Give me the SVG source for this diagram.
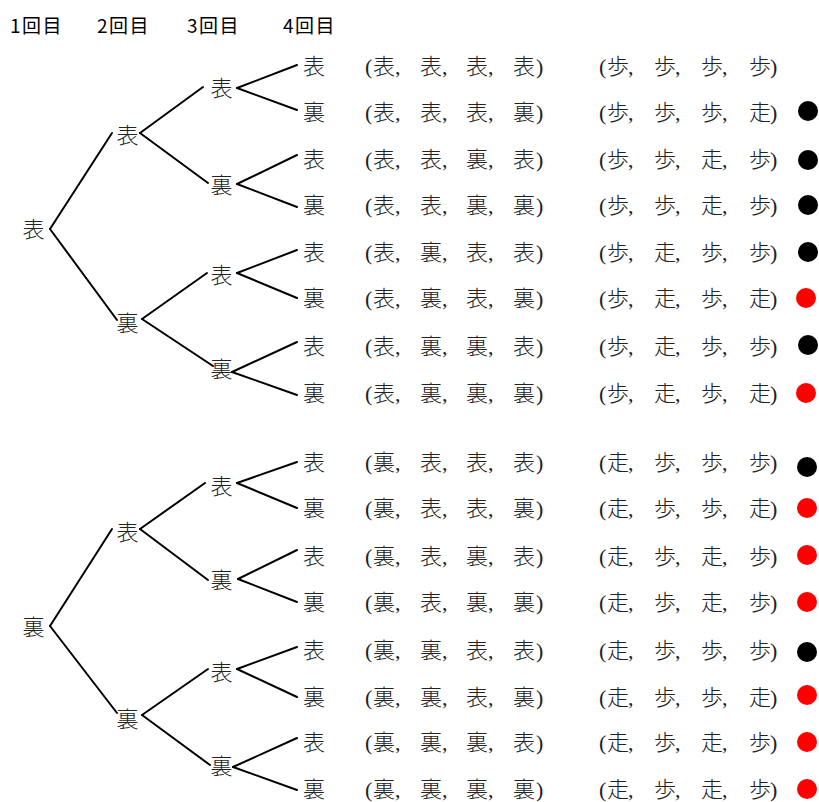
<svg xmlns="http://www.w3.org/2000/svg" width="819" height="802" viewBox="0 0 819 802">
<style>
.hd{font-family:"Noto Sans CJK JP",sans-serif;font-size:19px;font-weight:400;letter-spacing:1.5px;fill:#000}
.nd{font-family:"Noto Sans CJK JP",sans-serif;font-size:22px;font-weight:300;fill:#222;text-anchor:middle}
.tp{font-family:"Liberation Serif","Noto Sans CJK JP",serif;font-size:22px;fill:#222}
.k{font-family:"Noto Sans CJK JP",sans-serif;font-weight:300}
.cn line{stroke:#000;stroke-width:2;stroke-linecap:round}
.bk{fill:#000}.rd{fill:#f00}
</style>
<rect width="819" height="802" fill="#fff"/>
<g id="header">
<text class="hd" x="10" y="33">1回目</text>
<text class="hd" x="97" y="33">2回目</text>
<text class="hd" x="187" y="33">3回目</text>
<text class="hd" x="283" y="33">4回目</text>
</g>
<g id="connectors" class="cn">
<line x1="50" y1="229" x2="112" y2="133"/><line x1="50" y1="229" x2="117" y2="320"/>
<line x1="140" y1="133" x2="203" y2="87"/><line x1="140" y1="133" x2="208" y2="183"/>
<line x1="142" y1="319" x2="207" y2="273"/><line x1="142" y1="319" x2="213" y2="366"/>
<line x1="237" y1="88" x2="297" y2="65"/><line x1="237" y1="88" x2="297" y2="110"/>
<line x1="237" y1="184" x2="297" y2="155"/><line x1="237" y1="184" x2="297" y2="207"/>
<line x1="237" y1="273" x2="297" y2="250"/><line x1="237" y1="273" x2="297" y2="298"/>
<line x1="232" y1="372" x2="297" y2="342"/><line x1="232" y1="372" x2="297" y2="395"/>
<line x1="50" y1="626" x2="112" y2="529"/><line x1="50" y1="626" x2="117" y2="713"/>
<line x1="140" y1="529" x2="205" y2="483"/><line x1="140" y1="529" x2="208" y2="580"/>
<line x1="142" y1="715" x2="208" y2="669"/><line x1="142" y1="715" x2="210" y2="765"/>
<line x1="237" y1="483" x2="297" y2="462"/><line x1="237" y1="483" x2="297" y2="508"/>
<line x1="238" y1="579" x2="297" y2="550"/><line x1="238" y1="579" x2="297" y2="602"/>
<line x1="237" y1="669" x2="297" y2="647"/><line x1="237" y1="669" x2="297" y2="697"/>
<line x1="233" y1="767" x2="297" y2="738"/><line x1="233" y1="767" x2="297" y2="790"/>
</g>
<g id="tree-top">
<g id="n1"><text class="nd" x="33.5" y="237">表</text></g>
<g id="n1a"><text class="nd" x="127.5" y="143">表</text></g>
<g id="n1b"><text class="nd" x="127.5" y="331">裏</text></g>
<g id="n1aa"><text class="nd" x="221.5" y="96">表</text></g>
<g id="n1ab"><text class="nd" x="221.5" y="193">裏</text></g>
<g id="n1ba"><text class="nd" x="221.5" y="283">表</text></g>
<g id="n1bb"><text class="nd" x="221.5" y="377">裏</text></g>
<g id="n1l1"><text class="nd" x="314" y="74">表</text></g>
<g id="n1l2"><text class="nd" x="314" y="120">裏</text></g>
<g id="n1l3"><text class="nd" x="314" y="167">表</text></g>
<g id="n1l4"><text class="nd" x="314" y="213">裏</text></g>
<g id="n1l5"><text class="nd" x="314" y="260">表</text></g>
<g id="n1l6"><text class="nd" x="314" y="306">裏</text></g>
<g id="n1l7"><text class="nd" x="314" y="354">表</text></g>
<g id="n1l8"><text class="nd" x="314" y="401">裏</text></g>
</g>
<g id="tree-bottom">
<g id="n2"><text class="nd" x="33.5" y="635">裏</text></g>
<g id="n2a"><text class="nd" x="127.5" y="540">表</text></g>
<g id="n2b"><text class="nd" x="127.5" y="727">裏</text></g>
<g id="n2aa"><text class="nd" x="221.5" y="494">表</text></g>
<g id="n2ab"><text class="nd" x="221.5" y="588">裏</text></g>
<g id="n2ba"><text class="nd" x="221.5" y="680">表</text></g>
<g id="n2bb"><text class="nd" x="221.5" y="774">裏</text></g>
<g id="n2l1"><text class="nd" x="314" y="470">表</text></g>
<g id="n2l2"><text class="nd" x="314" y="516">裏</text></g>
<g id="n2l3"><text class="nd" x="314" y="564">表</text></g>
<g id="n2l4"><text class="nd" x="314" y="610">裏</text></g>
<g id="n2l5"><text class="nd" x="314" y="658">表</text></g>
<g id="n2l6"><text class="nd" x="314" y="705">裏</text></g>
<g id="n2l7"><text class="nd" x="314" y="750">表</text></g>
<g id="n2l8"><text class="nd" x="314" y="797">裏</text></g>
</g>
<g id="outcomes" class="tp">
<text x="365 373 395 420 442 466 488 513 536" y="74">(<tspan class="k">表</tspan>,<tspan class="k">表</tspan>,<tspan class="k">表</tspan>,<tspan class="k">表</tspan>)</text>
<text x="365 373 395 420 442 466 488 513 536" y="120">(<tspan class="k">表</tspan>,<tspan class="k">表</tspan>,<tspan class="k">表</tspan>,<tspan class="k">裏</tspan>)</text>
<text x="365 373 395 420 442 466 488 513 536" y="167">(<tspan class="k">表</tspan>,<tspan class="k">表</tspan>,<tspan class="k">裏</tspan>,<tspan class="k">表</tspan>)</text>
<text x="365 373 395 420 442 466 488 513 536" y="213">(<tspan class="k">表</tspan>,<tspan class="k">表</tspan>,<tspan class="k">裏</tspan>,<tspan class="k">裏</tspan>)</text>
<text x="365 373 395 420 442 466 488 513 536" y="260">(<tspan class="k">表</tspan>,<tspan class="k">裏</tspan>,<tspan class="k">表</tspan>,<tspan class="k">表</tspan>)</text>
<text x="365 373 395 420 442 466 488 513 536" y="306">(<tspan class="k">表</tspan>,<tspan class="k">裏</tspan>,<tspan class="k">表</tspan>,<tspan class="k">裏</tspan>)</text>
<text x="365 373 395 420 442 466 488 513 536" y="354">(<tspan class="k">表</tspan>,<tspan class="k">裏</tspan>,<tspan class="k">裏</tspan>,<tspan class="k">表</tspan>)</text>
<text x="365 373 395 420 442 466 488 513 536" y="401">(<tspan class="k">表</tspan>,<tspan class="k">裏</tspan>,<tspan class="k">裏</tspan>,<tspan class="k">裏</tspan>)</text>
<text x="365 373 395 420 442 466 488 513 536" y="470">(<tspan class="k">裏</tspan>,<tspan class="k">表</tspan>,<tspan class="k">表</tspan>,<tspan class="k">表</tspan>)</text>
<text x="365 373 395 420 442 466 488 513 536" y="516">(<tspan class="k">裏</tspan>,<tspan class="k">表</tspan>,<tspan class="k">表</tspan>,<tspan class="k">裏</tspan>)</text>
<text x="365 373 395 420 442 466 488 513 536" y="564">(<tspan class="k">裏</tspan>,<tspan class="k">表</tspan>,<tspan class="k">裏</tspan>,<tspan class="k">表</tspan>)</text>
<text x="365 373 395 420 442 466 488 513 536" y="610">(<tspan class="k">裏</tspan>,<tspan class="k">表</tspan>,<tspan class="k">裏</tspan>,<tspan class="k">裏</tspan>)</text>
<text x="365 373 395 420 442 466 488 513 536" y="658">(<tspan class="k">裏</tspan>,<tspan class="k">裏</tspan>,<tspan class="k">表</tspan>,<tspan class="k">表</tspan>)</text>
<text x="365 373 395 420 442 466 488 513 536" y="705">(<tspan class="k">裏</tspan>,<tspan class="k">裏</tspan>,<tspan class="k">表</tspan>,<tspan class="k">裏</tspan>)</text>
<text x="365 373 395 420 442 466 488 513 536" y="750">(<tspan class="k">裏</tspan>,<tspan class="k">裏</tspan>,<tspan class="k">裏</tspan>,<tspan class="k">表</tspan>)</text>
<text x="365 373 395 420 442 466 488 513 536" y="797">(<tspan class="k">裏</tspan>,<tspan class="k">裏</tspan>,<tspan class="k">裏</tspan>,<tspan class="k">裏</tspan>)</text>
</g>
<g id="walks" class="tp">
<text x="599 607 628 654 675 701 722 749 770" y="74">(<tspan class="k">歩</tspan>,<tspan class="k">歩</tspan>,<tspan class="k">歩</tspan>,<tspan class="k">歩</tspan>)</text>
<text x="599 607 628 654 675 701 722 749 770" y="120">(<tspan class="k">歩</tspan>,<tspan class="k">歩</tspan>,<tspan class="k">歩</tspan>,<tspan class="k">走</tspan>)</text>
<text x="599 607 628 654 675 701 722 749 770" y="167">(<tspan class="k">歩</tspan>,<tspan class="k">歩</tspan>,<tspan class="k">走</tspan>,<tspan class="k">歩</tspan>)</text>
<text x="599 607 628 654 675 701 722 749 770" y="213">(<tspan class="k">歩</tspan>,<tspan class="k">歩</tspan>,<tspan class="k">走</tspan>,<tspan class="k">歩</tspan>)</text>
<text x="599 607 628 654 675 701 722 749 770" y="260">(<tspan class="k">歩</tspan>,<tspan class="k">走</tspan>,<tspan class="k">歩</tspan>,<tspan class="k">歩</tspan>)</text>
<text x="599 607 628 654 675 701 722 749 770" y="306">(<tspan class="k">歩</tspan>,<tspan class="k">走</tspan>,<tspan class="k">歩</tspan>,<tspan class="k">走</tspan>)</text>
<text x="599 607 628 654 675 701 722 749 770" y="354">(<tspan class="k">歩</tspan>,<tspan class="k">走</tspan>,<tspan class="k">歩</tspan>,<tspan class="k">歩</tspan>)</text>
<text x="599 607 628 654 675 701 722 749 770" y="401">(<tspan class="k">歩</tspan>,<tspan class="k">走</tspan>,<tspan class="k">歩</tspan>,<tspan class="k">走</tspan>)</text>
<text x="599 607 628 654 675 701 722 749 770" y="470">(<tspan class="k">走</tspan>,<tspan class="k">歩</tspan>,<tspan class="k">歩</tspan>,<tspan class="k">歩</tspan>)</text>
<text x="599 607 628 654 675 701 722 749 770" y="516">(<tspan class="k">走</tspan>,<tspan class="k">歩</tspan>,<tspan class="k">歩</tspan>,<tspan class="k">走</tspan>)</text>
<text x="599 607 628 654 675 701 722 749 770" y="564">(<tspan class="k">走</tspan>,<tspan class="k">歩</tspan>,<tspan class="k">走</tspan>,<tspan class="k">歩</tspan>)</text>
<text x="599 607 628 654 675 701 722 749 770" y="610">(<tspan class="k">走</tspan>,<tspan class="k">歩</tspan>,<tspan class="k">走</tspan>,<tspan class="k">歩</tspan>)</text>
<text x="599 607 628 654 675 701 722 749 770" y="658">(<tspan class="k">走</tspan>,<tspan class="k">歩</tspan>,<tspan class="k">歩</tspan>,<tspan class="k">歩</tspan>)</text>
<text x="599 607 628 654 675 701 722 749 770" y="705">(<tspan class="k">走</tspan>,<tspan class="k">歩</tspan>,<tspan class="k">歩</tspan>,<tspan class="k">走</tspan>)</text>
<text x="599 607 628 654 675 701 722 749 770" y="750">(<tspan class="k">走</tspan>,<tspan class="k">歩</tspan>,<tspan class="k">走</tspan>,<tspan class="k">歩</tspan>)</text>
<text x="599 607 628 654 675 701 722 749 770" y="797">(<tspan class="k">走</tspan>,<tspan class="k">歩</tspan>,<tspan class="k">走</tspan>,<tspan class="k">歩</tspan>)</text>
</g>
<g id="marks">
<circle class="bk" cx="808" cy="111" r="10"/>
<circle class="bk" cx="808" cy="160" r="10"/>
<circle class="bk" cx="808" cy="205" r="10"/>
<circle class="bk" cx="808" cy="252" r="10"/>
<circle class="rd" cx="806" cy="298" r="10"/>
<circle class="bk" cx="808" cy="345" r="10"/>
<circle class="rd" cx="806" cy="393" r="10"/>
<circle class="bk" cx="807" cy="467" r="10"/>
<circle class="rd" cx="807" cy="508" r="10"/>
<circle class="rd" cx="807" cy="555" r="10"/>
<circle class="rd" cx="807" cy="602" r="10"/>
<circle class="bk" cx="807" cy="652" r="10"/>
<circle class="rd" cx="807" cy="695" r="10"/>
<circle class="rd" cx="807" cy="742" r="10"/>
<circle class="rd" cx="807" cy="789" r="10"/>
</g>
</svg>
